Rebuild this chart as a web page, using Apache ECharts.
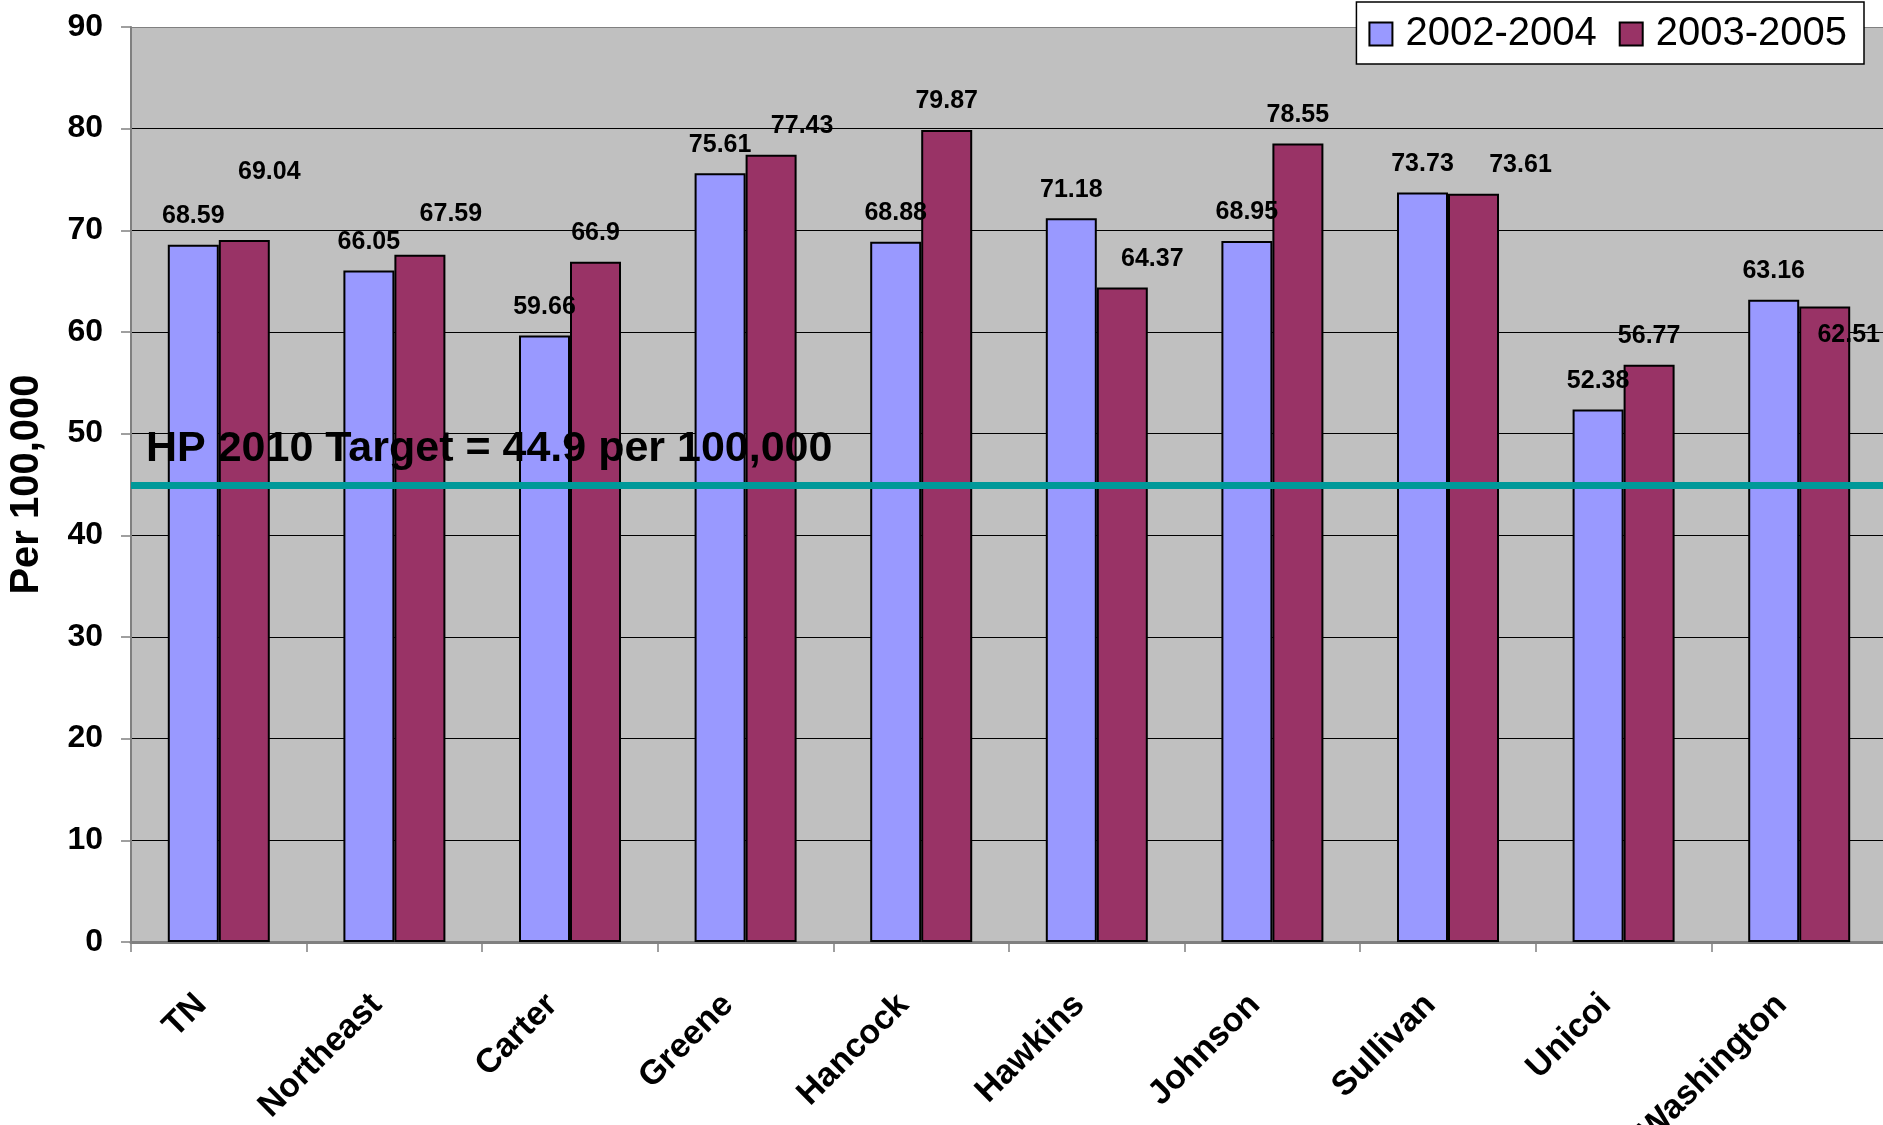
<!DOCTYPE html>
<html>
<head>
<meta charset="utf-8">
<script src="https://cdn.jsdelivr.net/npm/echarts@6/dist/echarts.min.js"></script>
<style>
html,body{margin:0;padding:0;background:#fff;}
#chart{width:1883px;height:1125px;}
</style>
</head>
<body>
<div id="chart"></div>
<script>
// ---- data ----
const categories = ['TN','Northeast','Carter','Greene','Hancock','Hawkins','Johnson','Sullivan','Unicoi','Washington'];
const seriesNames = ['2002-2004','2003-2005'];
const values2002_2004 = [68.59, 66.05, 59.66, 75.61, 68.88, 71.18, 68.95, 73.73, 52.38, 63.16];
const values2003_2005 = [69.04, 67.59, 66.9, 77.43, 79.87, 64.37, 78.55, 73.61, 56.77, 62.51];
const targetValue = 44.9;
const targetText = 'HP 2010 Target = ' + targetValue + ' per 100,000';
const yAxisName = 'Per 100,000';
const yMin = 0, yMax = 90, yInterval = 10;

// ---- styling ----
const FONT = '"Liberation Sans", Arial, sans-serif';
// per-label nudges for the second series (as placed in the original chart)
const redLabelNudges = [[25,-39],[31,-12],[0,0],[31,0],[0,0],[30,0],[0,0],[47,0],[0,0],[24,57]];

const labelStyle = {
  show: true, position: 'top', distance: 16,
  fontFamily: FONT, fontSize: 25, fontWeight: 'bold', color: '#000'
};

const splitColors = [];
for (let v = yMin; v <= yMax; v += yInterval) splitColors.push(v === yMax ? '#808080' : '#000');

const chart = echarts.init(document.getElementById('chart'));
chart.setOption({
  backgroundColor: '#ffffff',
  animation: false,
  textStyle: { fontFamily: FONT },
  legend: {
    data: seriesNames,
    top: 2, right: 19,
    orient: 'horizontal',
    backgroundColor: '#fff',
    borderColor: '#000', borderWidth: 1.5,
    padding: [12, 17, 10, 12],
    itemGap: 22, itemWidth: 23, itemHeight: 23,
    icon: 'rect',
    textStyle: { fontFamily: FONT, fontSize: 40, color: '#000', padding: [0, 0, 0, 8] }
  },
  grid: {
    left: 131, right: -4, top: 27, bottom: 183,
    show: true, backgroundColor: '#C0C0C0', borderWidth: 0,
    containLabel: false, outerBoundsMode: 'none'
  },
  xAxis: {
    type: 'category', data: categories,
    axisLine: { show: true, lineStyle: { color: '#808080', width: 3 } },
    axisTick: { show: true, alignWithLabel: false, length: 10, lineStyle: { color: '#808080', width: 1.5 } },
    axisLabel: {
      interval: 0, rotate: 45, margin: 40,
      padding: [0, 25, 0, 0],
      fontFamily: FONT, fontSize: 34, fontWeight: 'bold', color: '#000'
    },
    splitLine: { show: false }
  },
  yAxis: {
    type: 'value', min: yMin, max: yMax, interval: yInterval,
    name: yAxisName, nameLocation: 'middle', nameGap: 84,
    nameTextStyle: { fontFamily: FONT, fontSize: 40, fontWeight: 'bold', color: '#000' },
    axisLine: { show: true, lineStyle: { color: '#808080', width: 2 } },
    axisTick: { show: true, length: 10, lineStyle: { color: '#808080', width: 1.5 } },
    axisLabel: { margin: 28, fontFamily: FONT, fontSize: 32, fontWeight: 'bold', color: '#000' },
    splitLine: { show: true, lineStyle: { color: splitColors, width: 1.2 } }
  },
  series: [
    {
      name: seriesNames[0], type: 'bar',
      data: values2002_2004,
      barWidth: 51, barGap: '0%',
      itemStyle: { color: '#9999FF', borderColor: '#000', borderWidth: 2 },
      label: labelStyle
    },
    {
      name: seriesNames[1], type: 'bar',
      data: values2003_2005.map((v, i) => ({
        value: v,
        label: { offset: redLabelNudges[i] }
      })),
      barWidth: 51, barGap: '0%',
      itemStyle: { color: '#993366', borderColor: '#000', borderWidth: 2 },
      label: labelStyle,
      markLine: {
        silent: true,
        symbol: ['none', 'none'],
        data: [{ yAxis: targetValue }],
        lineStyle: { color: '#009999', width: 7, type: 'solid' },
        label: {
          show: true, position: 'insideStartTop', distance: 15,
          formatter: targetText,
          fontFamily: FONT, fontSize: 43, fontWeight: 'bold', color: '#000'
        },
        z: 10
      }
    }
  ]
});
</script>
</body>
</html>
